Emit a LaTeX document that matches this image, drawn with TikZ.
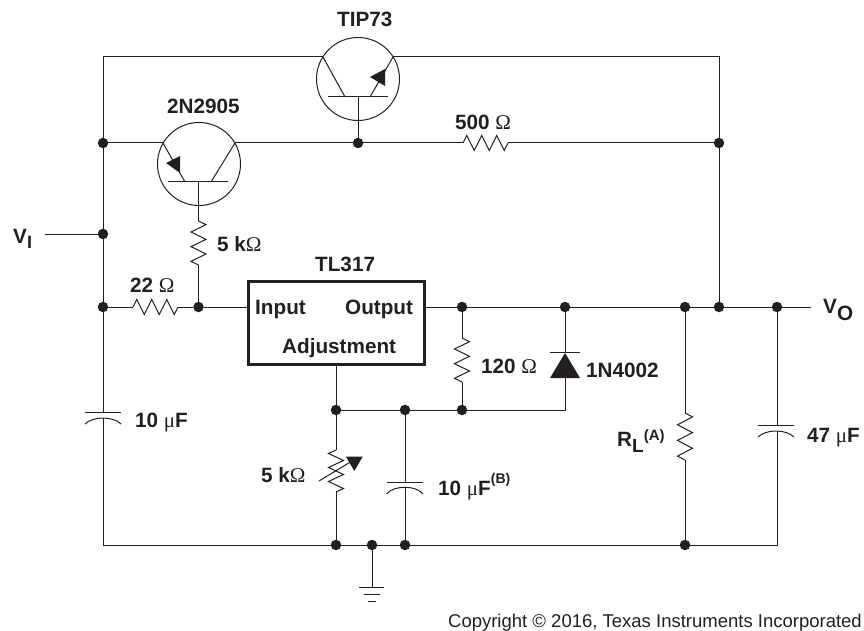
\documentclass[tikz,border=0pt]{standalone}
\usepackage{fontspec}
\setmainfont{Liberation Sans}
\newfontfamily\symf{Liberation Serif}
\usetikzlibrary{calc}
\definecolor{ink}{HTML}{231F20}
\newcommand{\om}{{\mdseries\symf\fontsize{21}{21}\selectfont Ω}}
\newcommand{\mic}{{\mdseries\symf\fontsize{21}{21}\selectfont μ}}
\newcommand{\zig}[3][90]{%
  \draw[wire,line join=miter] (#2)
   -- ($(#2)!.083!(#3)!7.5pt!#1:(#3)$)
   -- ($(#2)!.25!(#3)!7.5pt!-#1:(#3)$)
   -- ($(#2)!.417!(#3)!7.5pt!#1:(#3)$)
   -- ($(#2)!.583!(#3)!7.5pt!-#1:(#3)$)
   -- ($(#2)!.75!(#3)!7.5pt!#1:(#3)$)
   -- ($(#2)!.917!(#3)!7.5pt!-#1:(#3)$)
   -- (#3);}
\tikzset{
  x=1pt,y=-1pt,
  wire/.style={draw=ink,line width=1pt},
  dotn/.style={circle,fill=ink,inner sep=0pt,minimum size=10.5pt},
  lab/.style={text=ink,font=\bfseries\fontsize{20.7}{20.7}\selectfont,inner sep=0pt,anchor=base west},
  tip/.style={fill=ink,draw=none},
  tcirc/.style={circle,draw=ink,line width=1pt,minimum size=83pt,inner sep=0pt}
}
\begin{document}
\begin{tikzpicture}
\useasboundingbox (0,0) rectangle (864,631);
% transistors
\node[tcirc] (q1) at (358,79) {};
\node[tcirc] (q2) at (199,164) {};
% junctions
\foreach \n/\x/\y in {a/103/143,b/358/143,c/719/143,d/103/234,e/103/307,f/198.5/307,
  g/462/307,h/565/307,i/685/307,j/719/307,k/777/307,l/336/410,m/405/410,n/462/410,
  o/336/545,p/372/545,r/405/545,s/685/545}
  \node[dotn] (\n) at (\x,\y) {};
% terminals
\foreach \n/\x/\y in {tl/103/57,tr/719/57,q1c/323/57,q1e/393/57,q1bl/328/97,q1br/388/97,q1cb/345/97,q1eb/370/97,
  q2e/163/143,q2c/235/143,q2bl/168/182,q2br/228/182,q2eb/185/182,q2cb/211/182,q2s/198.5/182,q1s/358/97,
  vi/45/234,vo/811/307,bl/103/545,br/777/545,
  r5t/198.5/221,r5b/198.5/265,r22l/133/307,r22r/178/307,r500l/463/143,r500r/508/143,
  r120t/462/338,r120b/462/382,rlt/685/413,rlb/685/460,pt/336/450,pb/336/492,
  d1a/565/378,d1k/565/352,cor/565/410,
  c1t/103/412,c1b/103/418,c2t/777/425,c2b/777/431,c3t/405/482,c3b/405/487,
  g1/372/587,boxin/248/307,boxout/424/307,adj/336/364}
  \coordinate (\n) at (\x,\y);
% transistor internals
\draw[wire] (q1bl) -- (q1br);
\draw[wire] (q1c) -- (q1cb);
\draw[wire] (q1e) -- (q1eb);
\fill[tip] (370,77) -- (385,69) -- (385,86) -- cycle;
\draw[wire] (q2bl) -- (q2br);
\draw[wire] (q2e) -- (q2eb);
\draw[wire] (q2c) -- (q2cb);
\fill[tip] (166,163) -- (180,156) -- (180,173) -- cycle;
% rails
\draw[wire] (tl) -- (q1c);
\draw[wire] (q1e) -- (tr) -- (c) -- (j);
\draw[wire] (tl) -- (a) -- (d) -- (e) -- (c1t);
\draw[wire] (c1b) -- (bl) -- (o) -- (p) -- (r) -- (s) -- (br) -- (c2b);
\draw[wire] (c2t) -- (k);
\draw[wire] (a) -- (q2e);
\draw[wire] (q2c) -- (b) -- (r500l);
\draw[wire] (r500r) -- (c);
\draw[wire] (q1s) -- (b);
\draw[wire] (q2s) -- (r5t);
\draw[wire] (r5b) -- (f);
\zig{r5t}{r5b}
\draw[wire] (vi) -- (d);
\draw[wire] (e) -- (r22l);
\zig{r22l}{r22r}
\draw[wire] (r22r) -- (f) -- (boxin);
\zig{r500l}{r500r}
% regulator
\node[draw=ink,line width=3pt,minimum width=176pt,minimum height=83pt,inner sep=0pt] (reg) at (336,322.5) {};
\draw[wire] (boxout) -- (g) -- (h) -- (i) -- (j) -- (k) -- (vo);
\draw[wire] (adj) -- (l) -- (m) -- (n) -- (cor) -- (d1a);
\draw[wire] (g) -- (r120t);
\zig{r120t}{r120b}
\draw[wire] (r120b) -- (n);
% diode
\draw[wire] (h) -- (d1k);
\fill[tip] (565,353) -- (580,378) -- (550,378) -- cycle;
\draw[wire] (550,352.5) -- (580,352.5);
% RL
\draw[wire] (i) -- (rlt);
\zig{rlt}{rlb}
\draw[wire] (rlb) -- (s);
% pot
\draw[wire] (l) -- (pt);
\zig[-90]{pt}{pb}
\draw[wire] (pb) -- (o);
\draw[wire] (319,481) -- (352,461);
\fill[tip] (346,456.7) -- (362.7,456.7) -- (354.3,471) -- cycle;
% caps
\draw[wire] (85,412) -- (121,412);
\draw[wire] (85,424) .. controls (93,416) and (113,416) .. (121,424);
\draw[wire] (758,425) -- (794,425);
\draw[wire] (758,437) .. controls (766,429) and (786,429) .. (794,437);
\draw[wire] (m) -- (c3t);
\draw[wire] (386.5,482) -- (423,482);
\draw[wire] (386.5,494) .. controls (394,485) and (416,485) .. (423,494);
\draw[wire] (c3b) -- (r);
% ground
\draw[wire] (p) -- (g1);
\draw[wire] (359,587) -- (384,587);
\draw[wire] (363.5,594) -- (380,594);
\draw[wire] (368,601) -- (376,601);
% labels
\node[lab] (t1) at (337,27) {TIP73};
\node[lab] (t2) at (167,114) {2N2905};
\node[lab] (t3) at (455,130) {500 \om};
\node[lab] (t4) at (217,251) {5 k\om};
\node[lab] (t5) at (130,292) {22 \om};
\node[lab] (t6) at (315,271) {TL317};
\node[lab] (t7) at (255,314) {Input};
\node[lab] (t8) at (345,314) {Output};
\node[lab] (t9) at (282,353) {Adjustment};
\node[lab] (t10) at (481,373) {120 \om};
\node[lab] (t11) at (586,377) {1N4002};
\node[lab] (t12) at (135,427) {10 \mic F};
\node[lab] (t13) at (807,442) {47 \mic F};
\node[lab] (t14) at (261,482) {5 k\om};
\node[lab] (t15) at (438,495) {10 \mic F\raisebox{12pt}{\fontsize{14}{14}\selectfont (B)}};
\node[lab] (t16) at (617,446) {R\raisebox{-6pt}{\fontsize{19}{19}\selectfont L}\raisebox{6pt}{\fontsize{15}{15}\selectfont (A)}};
\node[lab] (t17) at (13,243) {V\raisebox{-5pt}{\fontsize{18}{18}\selectfont I}};
\node[lab] (t18) at (823,313.5) {V\raisebox{-7pt}{\fontsize{20.7}{20.7}\selectfont O}};
\node[text=ink,font=\fontsize{18.5}{18.5}\selectfont,inner sep=0pt,anchor=base east] (t19) at (862,627) {Copyright © 2016, Texas Instruments Incorporated};
\end{tikzpicture}
\end{document}
